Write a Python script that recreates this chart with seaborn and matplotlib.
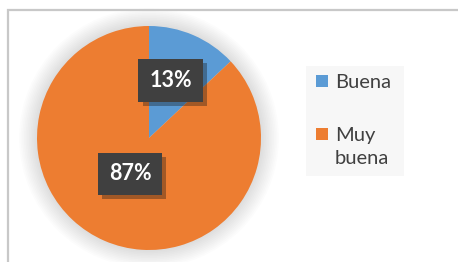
import numpy as np
import matplotlib
matplotlib.use("Agg")
import matplotlib.pyplot as plt
import matplotlib.patheffects as pe
from matplotlib.patches import Rectangle, Circle
import seaborn as sns

categories = ["Buena", "Muy buena"]
legend_labels = ["Buena", "Muy\nbuena"]
values = [13, 87]
pct_labels = ["13%", "87%"]
colors = ["#5B9BD5", "#ED7D31"]

sns.set_style("white")
plt.rcParams["font.family"] = ["Lato", "DejaVu Sans"]

W, H = 458, 262
fig = plt.figure(figsize=(W / 100, H / 100), dpi=100)
fig.patch.set_facecolor("white")

# outer chart frame
fig.add_artist(Rectangle((8 / W, -0.1), 1.2, (H - 10) / H + 0.1, transform=fig.transFigure,
                         fill=False, edgecolor="#C8C8C8", linewidth=1.6))

cx, cy, r = 149, H - 138, 112
ax = fig.add_axes([(cx - r) / W, (cy - r) / H, 2 * r / W, 2 * r / H])
# soft glow behind the pie
for k in np.linspace(1.16, 1.0, 12):
    ax.add_patch(Circle((0, 0), k, facecolor="#000000", alpha=0.01, edgecolor="none",
                        zorder=0, clip_on=False))
wedges, _ = ax.pie(values, colors=colors, startangle=90, counterclock=False,
                   radius=1.0, wedgeprops=dict(linewidth=0, zorder=2))
ax.set_xlim(-1, 1)
ax.set_ylim(-1, 1)
ax.set_aspect("equal")
ax.axis("off")

label_dist = [0.56, 0.35]
for w, lab, d in zip(wedges, pct_labels, label_dist):
    ang = np.deg2rad((w.theta1 + w.theta2) / 2)
    t = ax.text(d * np.cos(ang) - 0.03, d * np.sin(ang), lab, ha="center", va="center",
                color="white", fontsize=15.5, fontweight="bold", zorder=5,
                bbox=dict(boxstyle="square,pad=0.5", facecolor="#404040", edgecolor="none"))
    t.get_bbox_patch().set_path_effects([pe.SimplePatchShadow(offset=(3, -3), alpha=0.35), pe.Normal()])

# legend (drawn from categories / colours)
fig.add_artist(Rectangle((306 / W, 1 - 176 / H), 98 / W, 110 / H, transform=fig.transFigure,
                         facecolor="#F7F7F7", edgecolor="none"))
entry_top = [75, 128]
for lab, col, ytop in zip(legend_labels, colors, entry_top):
    fig.add_artist(Rectangle((316 / W, 1 - (ytop + 12) / H), 12 / W, 12 / H,
                             transform=fig.transFigure, facecolor=col, edgecolor="none"))
    fig.text(335 / W, 1 - (ytop - 1) / H, lab, ha="left", va="top", fontsize=14.5,
             color="#404040", linespacing=1.4)

fig.savefig("out.png", dpi=100, facecolor="white")
